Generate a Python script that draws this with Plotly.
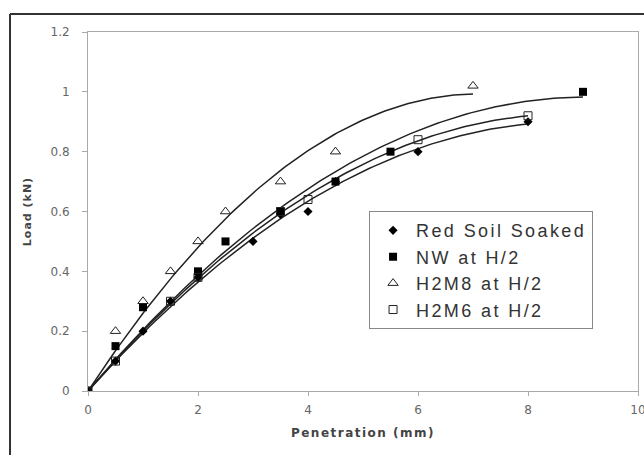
import numpy as np
import plotly.graph_objects as go

# Data
red_x = [0, 0.5, 1, 1.5, 2, 3, 3.5, 4, 4.5, 6, 8]
red_y = [0, 0.1, 0.2, 0.3, 0.38, 0.5, 0.59, 0.6, 0.7, 0.8, 0.9]
nw_x = [0, 0.5, 1, 2, 2.5, 3.5, 4.5, 5.5, 9]
nw_y = [0, 0.15, 0.28, 0.4, 0.5, 0.6, 0.7, 0.8, 1.0]
m8_x = [0, 0.5, 1, 1.5, 2, 2.5, 3.5, 4.5, 7]
m8_y = [0, 0.2, 0.3, 0.4, 0.5, 0.6, 0.7, 0.8, 1.02]
m6_x = [0, 0.5, 1.5, 2, 3.5, 4, 6, 8]
m6_y = [0, 0.1, 0.3, 0.38, 0.6, 0.64, 0.84, 0.92]

names = ["Red Soil Soaked", "NW at H/2", "H2M8 at H/2", "H2M6 at H/2"]
x_ticks = [0, 2, 4, 6, 8, 10]
y_ticks = [0, 0.2, 0.4, 0.6, 0.8, 1, 1.2]
y_tick_text = ["0", "0.2", "0.4", "0.6", "0.8", "1", "1.2"]


def spaced(t, px):
    return f'<span style="letter-spacing:{px}px">{t}</span>'


series = [
    (red_x, red_y, dict(symbol="diamond", size=7, color="black")),
    (nw_x, nw_y, dict(symbol="square", size=8, color="black")),
    (m8_x, m8_y, dict(symbol="triangle-up-open", size=9, color="#222", line=dict(width=1))),
    (m6_x, m6_y, dict(symbol="square-open", size=8, color="#222", line=dict(width=1))),
]

fig = go.Figure()

# 2nd-order polynomial trendlines (intercept set to 0) fitted to each series
for xs, ys, _ in series:
    xa = np.array(xs, float)
    ya = np.array(ys, float)
    A = np.column_stack([xa, xa ** 2])
    (a, b), *_ = np.linalg.lstsq(A, ya, rcond=None)
    gx = np.linspace(0, xa.max(), 120)
    fig.add_trace(go.Scatter(x=gx, y=a * gx + b * gx ** 2, mode="lines",
                             line=dict(color="#222", width=1.5),
                             showlegend=False, hoverinfo="skip"))

for (xs, ys, mk), nm in zip(series, names):
    fig.add_trace(go.Scatter(x=xs, y=ys, mode="markers", name=spaced(nm, 2.4), marker=mk))

fig.update_layout(
    width=644, height=455,
    margin=dict(l=88, r=6, t=32, b=64, autoexpand=False),
    paper_bgcolor="white", plot_bgcolor="white",
    font=dict(family="Liberation Sans, Arial, sans-serif", color="#333"),
    legend=dict(x=0.511, y=0.501, xanchor="left", yanchor="top",
                bgcolor="white", bordercolor="#888", borderwidth=1,
                font=dict(size=18, color="#333", family="Liberation Sans, Arial, sans-serif"),
                tracegroupgap=0, itemwidth=36),
    xaxis=dict(range=[0, 10], tickvals=x_ticks, showgrid=False, zeroline=False,
               showline=True, linecolor="#aaa", mirror=True,
               ticks="outside", ticklen=4, tickcolor="#aaa",
               ticklabeloverflow="allow", ticklabelstandoff=4,
               tickfont=dict(size=12, color="#666", family="DejaVu Sans, sans-serif"),
               title=dict(text=spaced("<b>Penetration (mm)</b>", 1.5),
                          font=dict(size=12, color="#444", family="DejaVu Sans, sans-serif"),
                          standoff=12)),
    yaxis=dict(range=[0, 1.2], tickvals=y_ticks, ticktext=y_tick_text, showgrid=False, zeroline=False,
               showline=True, linecolor="#aaa", mirror=True,
               ticks="outside", ticklen=5, tickcolor="#aaa",
               ticklabelstandoff=10,
               tickfont=dict(size=12, color="#666", family="DejaVu Sans, sans-serif"),
               title=dict(text=spaced("<b>Load (kN)</b>", 1),
                          font=dict(size=11, color="#444", family="DejaVu Sans, sans-serif"),
                          standoff=16)),
    shapes=[
        dict(type="line", xref="paper", yref="paper", x0=-0.1418, x1=1.05, y0=1.0501, y1=1.0501,
             line=dict(color="#333", width=2)),
        dict(type="line", xref="paper", yref="paper", x0=-0.1418, x1=-0.1418, y0=1.0501, y1=-0.3,
             line=dict(color="#333", width=2)),
    ],
)

fig.write_html("out.html", config={"displayModeBar": False},
               post_script="document.body.style.margin='0';document.body.style.overflow='hidden';")
